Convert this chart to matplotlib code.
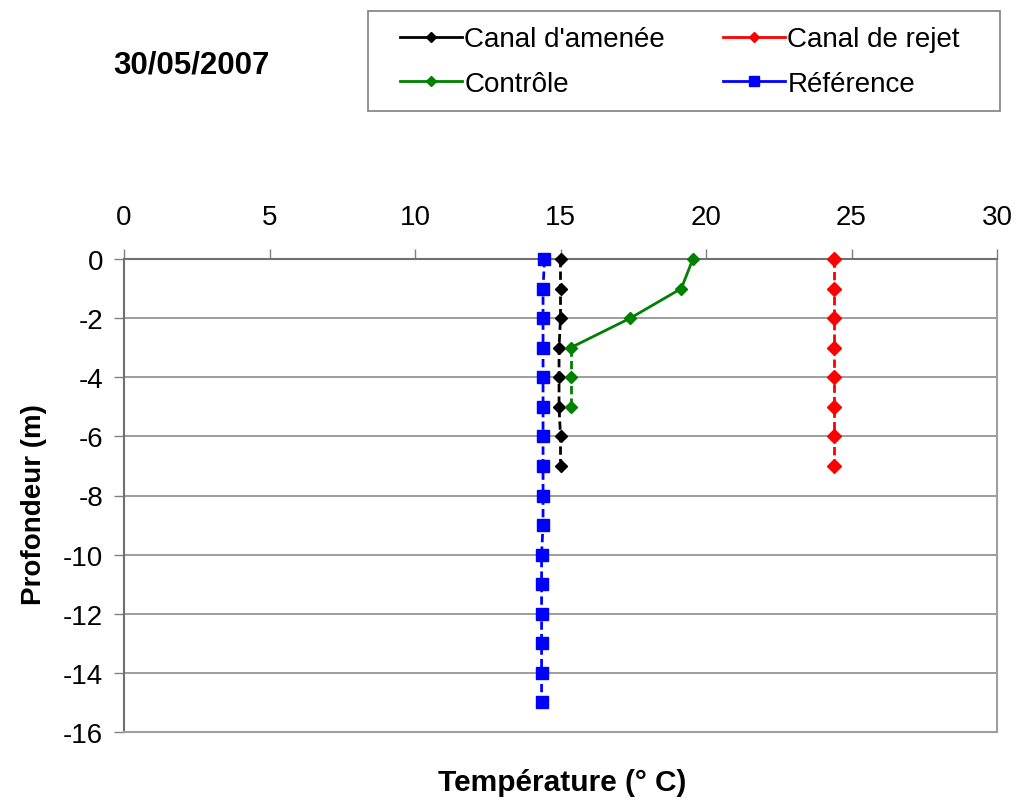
import matplotlib
matplotlib.use("Agg")
import matplotlib.pyplot as plt
from matplotlib.lines import Line2D
from matplotlib.patches import Rectangle

plt.rcParams['font.family'] = ['Liberation Sans', 'DejaVu Sans']
plt.rcParams['axes.unicode_minus'] = False

# temperature (deg C) by depth (m)
depth_amenee = [0, -1, -2, -3, -4, -5, -6, -7]
temp_amenee = [15.0, 15.0, 15.0, 14.95, 14.95, 14.95, 15.0, 15.0]

depth_rejet = [0, -1, -2, -3, -4, -5, -6, -7]
temp_rejet = [24.4, 24.4, 24.4, 24.4, 24.4, 24.4, 24.4, 24.4]

depth_controle = [0, -1, -2, -3, -4, -5]
temp_controle = [19.55, 19.15, 17.4, 15.35, 15.35, 15.35]

depth_reference = [0, -1, -2, -3, -4, -5, -6, -7, -8, -9, -10, -11, -12, -13, -14, -15]
temp_reference = [14.45, 14.4, 14.4, 14.4, 14.4, 14.4, 14.4, 14.4,
                  14.4, 14.4, 14.35, 14.35, 14.35, 14.35, 14.35, 14.35]

x_ticks = [0, 5, 10, 15, 20, 25, 30]
y_ticks = [0, -2, -4, -6, -8, -10, -12, -14, -16]

W, H = 1022, 803
fig = plt.figure(figsize=(W / 100, H / 100), dpi=100)
ax = fig.add_axes([124 / W, 1 - 733 / H, 873 / W, 473 / H])

DASH = (0, (3, 1.5))
series = {
    "amenee": (temp_amenee, depth_amenee, "black", "D", 6.5, "Canal d'amenée"),
    "rejet": (temp_rejet, depth_rejet, "#ff0000", "D", 7, "Canal de rejet"),
    "controle": (temp_controle, depth_controle, "#008000", "D", 6.5, "Contrôle"),
    "reference": (temp_reference, depth_reference, "#0000ff", "s", 9, "Référence"),
}

for key, (t, d, c, m, ms, lab) in series.items():
    if key == "controle":
        # sloped part of the profile is drawn solid, the vertical tail dashed
        ax.plot(t[:4], d[:4], color=c, lw=2, ls='-', zorder=3, clip_on=False)
        ax.plot(t[3:], d[3:], color=c, lw=2, ls=DASH, zorder=3, clip_on=False)
        ax.plot(t, d, ls='none', marker=m, ms=ms, mec=c, mfc=c, zorder=4,
                clip_on=False)
    else:
        ax.plot(t, d, color=c, lw=2, ls=DASH, marker=m, ms=ms,
                mec=c, mfc=c, zorder=3, clip_on=False)

ax.set_xlim(0, 30)
ax.set_ylim(-16, 0)
ax.set_xticks(x_ticks)
ax.set_yticks(y_ticks)
ax.xaxis.tick_top()
ax.tick_params(axis='x', length=7, width=1, color='#808080', pad=14, labelsize=20)
ax.tick_params(axis='y', length=7, width=1, color='#808080', pad=8, labelsize=20)
ax.yaxis.grid(True, color='#8c8c8c', lw=1.2)
ax.set_axisbelow(True)

for side in ['bottom', 'right']:
    ax.spines[side].set_color('#a0a0a0')
    ax.spines[side].set_linewidth(1.5)
for side in ['top', 'left']:
    ax.spines[side].set_color('#707070')
    ax.spines[side].set_linewidth(1.5)

fig.text(34 / W, 1 - 505 / H, "Profondeur (m)", rotation=90, ha='center',
         va='center', fontsize=20, fontweight='bold')
fig.text(562 / W, 1 - 783 / H, "Température (° C)", ha='center', va='center',
         fontsize=21.5, fontweight='bold')
fig.text(191 / W, 1 - 66 / H, "30/05/2007", ha='center', va='center',
         fontsize=22.5, fontweight='bold')

# legend laid out row by row: amenee, rejet / controle, reference
order = ["amenee", "controle", "rejet", "reference"]
handles = [Line2D([], [], color=series[k][2], lw=2, marker=series[k][3],
                  ms=series[k][4] * 0.75, mec=series[k][2], mfc=series[k][2])
           for k in order]
labels = [series[k][5] for k in order]
fig.legend(handles, labels, ncol=2, loc='upper left',
           bbox_to_anchor=(381 / W, 1 - 8 / H), fontsize=20, frameon=False,
           handlelength=2.2, handletextpad=0.1, columnspacing=2.1,
           borderpad=0.2, labelspacing=0.65)
fig.patches.append(Rectangle((368 / W, 1 - 112 / H), 632 / W, 100 / H,
                             transform=fig.transFigure, fill=False,
                             edgecolor='#8a8a8a', lw=1.3))

fig.savefig("out.png", dpi=100)
